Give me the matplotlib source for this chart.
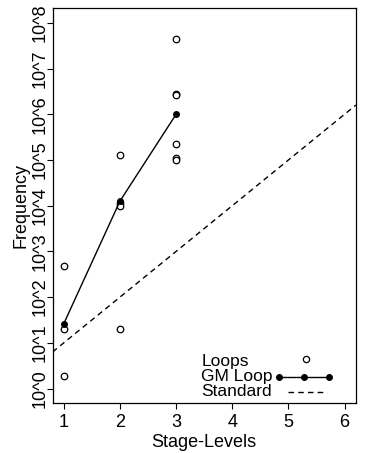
import matplotlib.pyplot as plt
import numpy as np

plt.rcParams['font.family'] = ['Liberation Sans', 'DejaVu Sans']

# observed loop frequencies (log10) per stage level
loop_stage = [1, 1, 1, 2, 2, 2, 2, 3, 3, 3, 3, 3, 3]
loop_exp = [2.68, 1.31, 0.28, 5.1, 4.05, 4.0, 1.31, 7.65, 6.45, 6.42, 5.34, 5.05, 5.0]

# geometric mean of loops
gm_stage = [1, 2, 3]
gm_exp = [1.42, 4.1, 6.0]

# standard: 10^level
std_stage = [1, 2, 3, 4, 5, 6]
std_exp = [1, 2, 3, 4, 5, 6]

y_exps = list(range(9))
y_labels = ["10^{}".format(k) for k in y_exps]
x_ticks = [1, 2, 3, 4, 5, 6]
legend_labels = ["Loops", "GM Loop", "Standard"]

loop_freq = 10.0 ** np.array(loop_exp)
gm_freq = 10.0 ** np.array(gm_exp)
std_freq = 10.0 ** np.array(std_exp)

FS = 13
DASH = (0, (4, 3))

fig = plt.figure(figsize=(3.65, 4.53), dpi=100)
ax = fig.add_axes([0.144, 0.110, 0.831, 0.872])

ax.scatter(loop_stage, loop_freq, s=22, facecolors="white", edgecolors="black",
           linewidths=0.9, zorder=3)
ax.plot(gm_stage, gm_freq, color="black", lw=1.0, marker="o", ms=4, zorder=4)
ax.axline((std_stage[0], std_freq[0]), (std_stage[-1], std_freq[-1]),
          color="black", lw=1.0, ls=DASH)

ax.set_yscale("log")
ax.set_xlim(0.8, 6.2)
ax.set_ylim(10 ** -0.32, 10 ** 8.32)
ax.set_xticks(x_ticks)
ax.set_yticks(10.0 ** np.array(y_exps))
ax.set_yticklabels(y_labels, rotation=90, va="center")
ax.yaxis.set_minor_locator(plt.NullLocator())
ax.tick_params(axis="both", labelsize=FS, length=4, width=0.8, direction="out")
ax.tick_params(axis="x", pad=4)
ax.tick_params(axis="y", pad=-1.5)
for s in ax.spines.values():
    s.set_linewidth(0.9)

ax.set_xlabel("Stage-Levels", fontsize=FS, labelpad=2)
ax.set_ylabel("Frequency", fontsize=FS, labelpad=2)

# legend in R style: text left, symbols right
tx = 0.491
rows = [0.0944, 0.0557, 0.0177]
for lab, yb in zip(legend_labels, rows):
    ax.text(tx, yb, lab, transform=ax.transAxes, fontsize=12.5, va="baseline", ha="left")
ax.plot([0.836], [0.111], transform=ax.transAxes, ls="none", marker="o", ms=4.5,
        mfc="white", mec="black", mew=0.9, clip_on=False)
ax.plot([0.745, 0.828, 0.911], [0.067] * 3, transform=ax.transAxes, color="black",
        lw=1.0, marker="o", ms=4, clip_on=False)
ax.plot([0.776, 0.904], [0.029] * 2, transform=ax.transAxes, color="black",
        lw=1.0, ls=DASH, clip_on=False)

plt.savefig("out.png", dpi=100)
